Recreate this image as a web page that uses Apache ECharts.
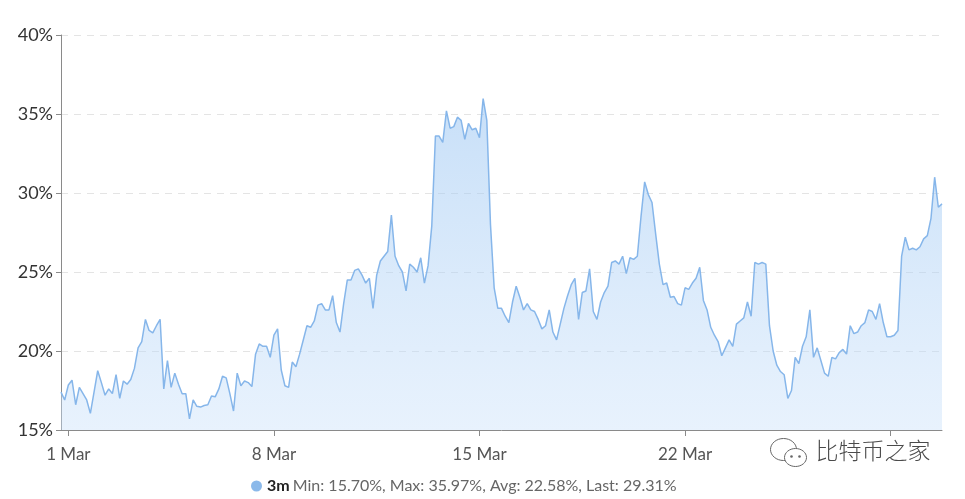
<!DOCTYPE html>
<html>
<head>
<meta charset="utf-8">
<script src="https://cdn.jsdelivr.net/npm/echarts@6/dist/echarts.min.js"></script>
<style>
  html, body { margin: 0; padding: 0; background: #fff; }
  #chart { width: 965px; height: 499px; }
</style>
</head>
<body>
<div id="chart"></div>
<script>
// ---- data (3-hour samples, starting 28 Feb 18:00) ----
const seriesName = '3m';
const startUTC = Date.UTC(2021, 1, 28, 18, 0, 0);
const stepHours = 3;
const vol3m = [
  17.4, 16.9, 17.85, 18.15, 16.6, 17.7, 17.3, 16.9, 16.05, 17.4,
  18.75, 18.0, 17.2, 17.6, 17.3, 18.5, 17.0, 18.1, 17.9, 18.2,
  18.9, 20.2, 20.6, 22.0, 21.3, 21.15, 21.6, 22.0, 17.6, 19.4,
  17.7, 18.6, 17.9, 17.3, 17.3, 15.7, 16.9, 16.5, 16.45, 16.55,
  16.6, 17.15, 17.1, 17.6, 18.4, 18.3, 17.3, 16.2, 18.6, 17.8,
  18.1, 18.0, 17.75, 19.8, 20.45, 20.3, 20.3, 19.6, 21.0, 21.4,
  18.8, 17.8, 17.7, 19.3, 19.0, 19.8, 20.7, 21.6, 21.5, 21.9,
  22.9, 23.0, 22.6, 22.6, 23.5, 21.8, 21.2, 23.0, 24.5, 24.5,
  25.1, 25.2, 24.8, 24.3, 24.6, 22.7, 24.8, 25.7, 26.0, 26.3,
  28.6, 26.0, 25.4, 25.0, 23.8, 25.5, 25.3, 25.0, 25.9, 24.3,
  25.4, 27.9, 33.6, 33.6, 33.2, 35.2, 34.1, 34.2, 34.8, 34.6,
  33.4, 34.4, 34.0, 34.1, 33.5, 35.97, 34.6, 28.0, 24.0, 22.7,
  22.7, 22.2, 21.8, 23.1, 24.1, 23.4, 22.6, 23.0, 22.6, 22.5,
  22.0, 21.4, 21.6, 22.6, 21.2, 20.7, 21.7, 22.7, 23.5, 24.2,
  24.6, 22.0, 23.7, 23.8, 25.2, 22.5, 22.0, 23.1, 23.7, 24.1,
  25.6, 25.7, 25.5, 26.0, 24.9, 25.9, 25.8, 26.0, 28.5, 30.7,
  29.9, 29.4, 27.4, 25.5, 24.2, 24.3, 23.4, 23.45, 23.0, 22.9,
  24.0, 23.9, 24.3, 24.6, 25.3, 23.2, 22.6, 21.5, 21.0, 20.6,
  19.7, 20.2, 20.7, 20.3, 21.7, 21.9, 22.1, 23.1, 22.2, 25.6,
  25.5, 25.6, 25.5, 21.6, 20.0, 19.1, 18.7, 18.5, 17.0, 17.5,
  19.6, 19.2, 20.3, 20.9, 22.6, 19.6, 20.2, 19.4, 18.6, 18.4,
  19.6, 19.5, 19.9, 20.1, 19.8, 21.6, 21.1, 21.2, 21.6, 21.8,
  22.6, 22.5, 22.0, 23.0, 21.8, 20.9, 20.9, 21.0, 21.3, 26.0,
  27.2, 26.4, 26.5, 26.4, 26.6, 27.1, 27.3, 28.4, 31.0, 29.1,
  29.31
];
const tickDays = ['1 Mar', '8 Mar', '15 Mar', '22 Mar', '29 Mar'];
const labelDays = ['1 Mar', '8 Mar', '15 Mar', '22 Mar'];
const yTicks = [15, 20, 25, 30, 35, 40];
const legendStats = [['Min', '15.70%'], ['Max', '35.97%'], ['Avg', '22.58%'], ['Last', '29.31%']];
const watermarkText = '比特币之家';

// ---- build categories ----
const monthNames = ['Jan','Feb','Mar','Apr','May','Jun','Jul','Aug','Sep','Oct','Nov','Dec'];
const categories = vol3m.map((_, i) => {
  const d = new Date(startUTC + i * stepHours * 3600 * 1000);
  const hh = String(d.getUTCHours()).padStart(2, '0');
  return d.getUTCDate() + ' ' + monthNames[d.getUTCMonth()] + ' ' + hh + ':00';
});
const dayPart = v => v.split(' ').slice(0, 2).join(' ');
const isMidnight = v => v.endsWith(' 00:00');

const chart = echarts.init(document.getElementById('chart'), null, { renderer: 'canvas' });
const FONT = 'Lato, "Open Sans", sans-serif';

const option = {
  backgroundColor: '#ffffff',
  animation: false,
  grid: { left: 61, right: 23, top: 35, bottom: 69, containLabel: false },
  xAxis: {
    type: 'category',
    data: categories,
    boundaryGap: false,
    axisLine: { show: true, lineStyle: { color: '#8a8a8a', width: 1 } },
    axisTick: {
      show: true,
      length: 6,
      lineStyle: { color: '#8a8a8a' },
      interval: (i, v) => isMidnight(v) && tickDays.includes(dayPart(v))
    },
    axisLabel: {
      show: true,
      margin: 16,
      color: '#555',
      fontFamily: FONT,
      fontSize: 17,
      interval: (i, v) => isMidnight(v) && labelDays.includes(dayPart(v)),
      formatter: v => dayPart(v)
    },
    splitLine: { show: false }
  },
  yAxis: {
    type: 'value',
    min: yTicks[0],
    max: yTicks[yTicks.length - 1],
    interval: 5,
    axisLine: { show: true, lineStyle: { color: '#8a8a8a', width: 1 } },
    axisTick: { show: true, length: 5, lineStyle: { color: '#8a8a8a' } },
    axisLabel: {
      margin: 8,
      color: '#333',
      fontFamily: FONT,
      fontSize: 18,
      formatter: '{value}%'
    },
    splitLine: { show: true, lineStyle: { color: '#e4e4e4', type: [7, 6], width: 1 } }
  },
  legend: {
    show: true,
    left: 246,
    top: 473,
    icon: 'circle',
    itemWidth: 11,
    itemHeight: 11,
    itemGap: 8,
    data: [seriesName],
    formatter: name => '{b|' + name + '} {s|' + legendStats.map(s => s[0] + ': ' + s[1]).join(', ') + '}',
    textStyle: {
      fontFamily: FONT,
      rich: {
        b: { fontWeight: 'bold', color: '#222', fontSize: 16, fontFamily: FONT },
        s: { color: '#666', fontSize: 16, fontFamily: FONT }
      }
    }
  },
  series: [{
    name: seriesName,
    type: 'line',
    data: vol3m,
    symbol: 'none',
    showSymbol: false,
    smooth: false,
    itemStyle: { color: '#8bb9ea' },
    lineStyle: { color: '#86b6ea', width: 1.5 },
    areaStyle: {
      color: new echarts.graphic.LinearGradient(0, 0, 0, 1, [
        { offset: 0, color: 'rgba(150,195,242,0.75)' },
        { offset: 1, color: 'rgba(200,224,250,0.6)' }
      ])
    }
  }],
  graphic: [
    {
      type: 'group',
      left: 770,
      top: 438,
      children: [
        { type: 'ellipse', shape: { cx: 14, cy: 14, rx: 13, ry: 11 }, style: { fill: '#fff', stroke: '#666', lineWidth: 1 } },
        { type: 'ellipse', shape: { cx: 26, cy: 22, rx: 11, ry: 9 }, style: { fill: '#fff', stroke: '#666', lineWidth: 1 } },
        { type: 'circle', shape: { cx: 22, cy: 21, r: 1.3 }, style: { fill: '#666' } },
        { type: 'circle', shape: { cx: 30, cy: 21, r: 1.3 }, style: { fill: '#666' } },
        {
          type: 'text',
          left: 46,
          top: 3,
          style: { text: watermarkText, fill: '#4a4a4a', font: '300 23px "Noto Sans CJK SC", sans-serif' }
        }
      ]
    }
  ]
};
chart.setOption(option);
</script>
</body>
</html>
